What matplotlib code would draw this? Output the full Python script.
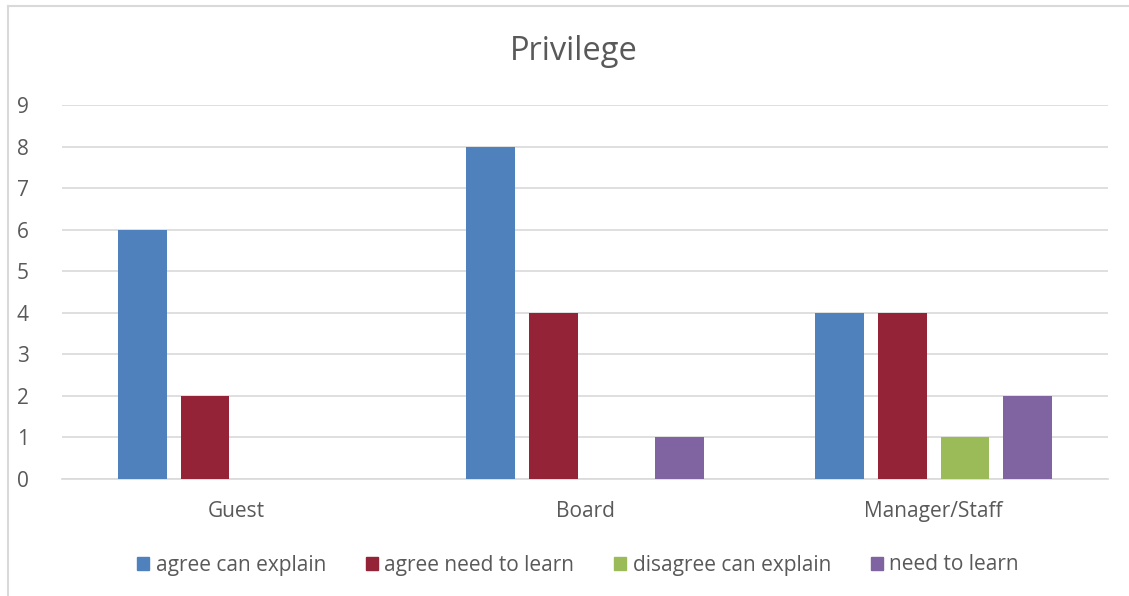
import numpy as np
import matplotlib.pyplot as plt
from matplotlib.lines import Line2D

categories = ["Guest", "Board", "Manager/Staff"]
series_names = ["agree can explain", "agree need to learn", "disagree can explain", "need to learn"]
agree_can_explain = [6, 8, 4]
agree_need_to_learn = [2, 4, 4]
disagree_can_explain = [0, 0, 1]
need_to_learn = [0, 1, 2]
colors = ["#4F81BD", "#942337", "#9BBB59", "#8064A2"]

plt.rcParams['font.family'] = ['Open Sans', 'DejaVu Sans']

fig = plt.figure(figsize=(11.29, 5.96), dpi=100)
ax = fig.add_axes([62 / 1129, 1 - 479 / 596, 1046 / 1129, 374 / 596])

x = np.arange(len(categories))
width = 0.14
step = 0.18
all_series = [agree_can_explain, agree_need_to_learn, disagree_can_explain, need_to_learn]
for i, (vals, name, c) in enumerate(zip(all_series, series_names, colors)):
    ax.bar(x + (i - 1.5) * step, vals, width, color=c, label=name, zorder=3)

ax.set_xlim(-0.5, 2.5)
ax.set_ylim(0, 9)
ax.set_yticks(range(10))
ax.set_xticks(x)
ax.set_xticklabels(categories)
ax.grid(axis="y", color="#D9D9D9", linewidth=1.2, zorder=0)
for s in ["top", "right", "left"]:
    ax.spines[s].set_visible(False)
ax.spines["bottom"].set_color("#D9D9D9")
ax.spines["bottom"].set_linewidth(1.2)
ax.tick_params(length=0, labelsize=15, colors="#595959")
ax.tick_params(axis="x", pad=16)
ax.tick_params(axis="y", pad=24)

fig.text(574 / 1129, 1 - 52 / 596, "Privilege", ha="center", va="center", fontsize=23.5, color="#595959")

handles = [plt.Rectangle((0, 0), 1, 1, color=c) for c in colors]
fig.legend(handles, series_names, loc="center", bbox_to_anchor=(578 / 1129, 1 - 565 / 596),
           ncol=4, frameon=False, fontsize=15, handlelength=0.6, handleheight=0.6,
           handletextpad=0.3, columnspacing=1.9, labelcolor="#595959")

# chart border
fig.add_artist(Line2D([8 / 1129, 8 / 1129], [0, 1 - 6 / 596], color="#D9D9D9", linewidth=1.5))
fig.add_artist(Line2D([8 / 1129, 1], [1 - 6 / 596, 1 - 6 / 596], color="#D9D9D9", linewidth=1.5))

fig.savefig("out.png", dpi=100)
